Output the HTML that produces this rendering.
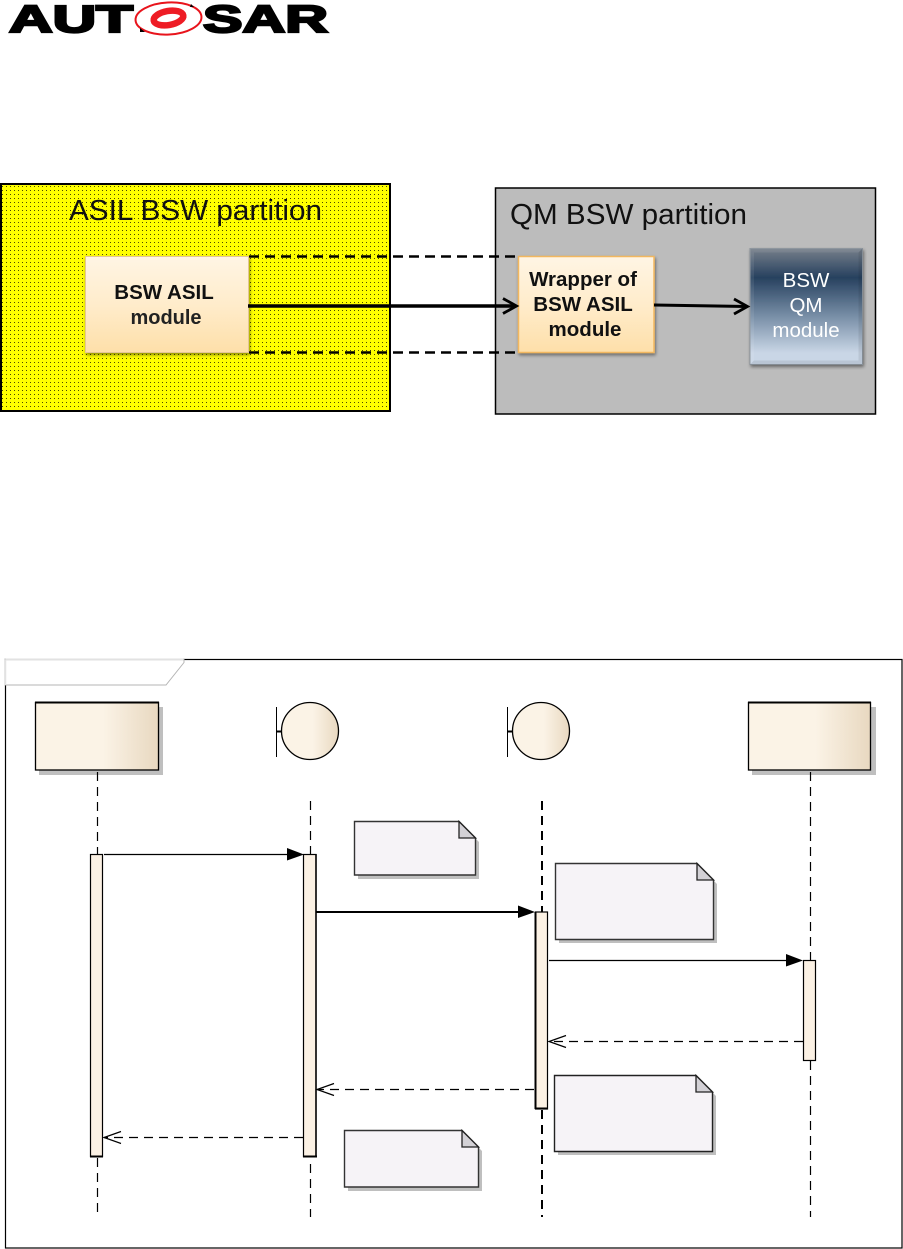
<!DOCTYPE html>
<html>
<head>
<meta charset="utf-8">
<style>
html,body{margin:0;padding:0;background:#fff}
svg{display:block}
text{font-family:"Liberation Sans",sans-serif}
</style>
</head>
<body>
<svg width="903" height="1249" viewBox="0 0 903 1249" xmlns="http://www.w3.org/2000/svg">
<defs>
<pattern id="dots" width="4" height="4" patternUnits="userSpaceOnUse" x="1" y="1">
<rect width="4" height="4" fill="#ffff00"/>
<rect x="1" y="1" width="1" height="1" fill="#4a4a00"/>
</pattern>
<linearGradient id="orange" x1="0" y1="0" x2="0" y2="1">
<stop offset="0" stop-color="#fff5e4"/><stop offset="0.5" stop-color="#ffeccb"/><stop offset="1" stop-color="#fedfa9"/>
</linearGradient>
<linearGradient id="blue" x1="0" y1="0" x2="0" y2="1">
<stop offset="0" stop-color="#767f8a"/><stop offset="0.25" stop-color="#27415f"/><stop offset="0.6" stop-color="#7c92aa"/><stop offset="0.9" stop-color="#c9d6e6"/><stop offset="1" stop-color="#c9d6e6"/>
</linearGradient>
<linearGradient id="life" x1="0" y1="0" x2="1" y2="0">
<stop offset="0" stop-color="#fbf3e6"/><stop offset="0.55" stop-color="#fbf3e6"/><stop offset="1" stop-color="#e8d8c0"/>
</linearGradient>
<filter id="sh" x="-10%" y="-10%" width="125%" height="125%"><feDropShadow dx="1" dy="2" stdDeviation="1.5" flood-color="#000" flood-opacity="0.45"/></filter>
</defs>

<!-- logo -->
<text x="9" y="32" font-size="38" font-weight="bold" textLength="124" lengthAdjust="spacingAndGlyphs" fill="#000" stroke="#000" stroke-width="2.200">AUT</text>
<text x="203" y="32" font-size="38" font-weight="bold" textLength="125" lengthAdjust="spacingAndGlyphs" fill="#000" stroke="#000" stroke-width="2.200">SAR</text>
<ellipse cx="168.500" cy="18.500" rx="33" ry="16" fill="#fff" stroke="#e8141c" stroke-width="2" transform="rotate(-3 168.500 18.500)"/>
<ellipse cx="168.500" cy="18" rx="15" ry="7" fill="none" stroke="#ee1c25" stroke-width="6.500" transform="rotate(-10 168.500 18)"/>
<path d="M191 4l3 3-4 0zM140 28l5 4-5 0z" fill="#000"/>

<!-- top diagram -->
<rect x="1" y="184" width="389" height="227" fill="url(#dots)" stroke="#000" stroke-width="2"/>
<rect x="495.500" y="188" width="380" height="226" fill="#bcbcbc" stroke="#000" stroke-width="1.500"/>
<text x="69" y="220" font-size="29" textLength="253" lengthAdjust="spacingAndGlyphs" fill="#111">ASIL BSW partition</text>
<text x="510" y="224" font-size="29" textLength="237" lengthAdjust="spacingAndGlyphs" fill="#111">QM BSW partition</text>

<rect x="85.500" y="256.500" width="163" height="96" fill="url(#orange)" stroke="#e3c596" stroke-width="1" filter="url(#sh)"/>
<text x="164" y="299" text-anchor="middle" font-size="20.500" font-weight="bold" fill="#111">BSW ASIL</text>
<text x="166" y="324" text-anchor="middle" font-size="20" font-weight="bold" fill="#222">module</text>

<rect x="518.500" y="256.500" width="135.500" height="96" fill="url(#orange)" stroke="#f2b75f" stroke-width="1.500" filter="url(#sh)"/>
<text x="583" y="286" text-anchor="middle" font-size="20.500" font-weight="bold" fill="#111">Wrapper of</text>
<text x="583" y="311" text-anchor="middle" font-size="20.500" font-weight="bold" fill="#111">BSW ASIL</text>
<text x="585" y="336" text-anchor="middle" font-size="20.500" font-weight="bold" fill="#111">module</text>

<rect x="750" y="248.500" width="112.500" height="116" fill="url(#blue)" stroke="#8a929a" stroke-width="1" filter="url(#sh)"/>
<path d="M750 248.500h112.500l-4 4h-104.500v108l-4 4z" fill="#fff" opacity="0.08"/>
<path d="M862.500 248.500v116h-112.500l4-4h104.500v-108z" fill="#000" opacity="0.08"/>
<text x="806" y="287" text-anchor="middle" font-size="20.500" fill="#fff">BSW</text>
<text x="806" y="312" text-anchor="middle" font-size="20.500" fill="#fff">QM</text>
<text x="806" y="337" text-anchor="middle" font-size="20.500" fill="#fff">module</text>

<line x1="249" y1="256.500" x2="518" y2="256.500" stroke="#000" stroke-width="2.400" stroke-dasharray="10 6"/>
<line x1="249" y1="352.500" x2="518" y2="352.500" stroke="#000" stroke-width="2.400" stroke-dasharray="10 6"/>
<line x1="248" y1="306" x2="516" y2="306" stroke="#000" stroke-width="3.500"/>
<path d="M503 298.500L516.500 306L503 313.500" fill="none" stroke="#000" stroke-width="2.800"/>
<line x1="654" y1="305" x2="747" y2="306.500" stroke="#000" stroke-width="3"/>
<path d="M734 299L747.500 306.500L734 314" fill="none" stroke="#000" stroke-width="2.800"/>

<!-- sequence frame -->
<rect x="5.500" y="659.500" width="896.500" height="588.500" fill="#fff" stroke="#000" stroke-width="1.200"/>
<path d="M5 659h179v3.500L166 685H5z" fill="#fff" stroke="#b5b5b5" stroke-width="1"/>
<path d="M5.500 659.500H183.500" stroke="#e2e2e2" stroke-width="2" fill="none"/>
<path d="M5.500 659.500V685" stroke="#e2e2e2" stroke-width="1.500" fill="none"/>

<!-- lifeline heads -->
<rect x="39" y="707" width="124" height="68" fill="#bfbfbf"/>
<rect x="35.500" y="702.500" width="123" height="67.500" fill="url(#life)" stroke="#000" stroke-width="1.300"/>
<line x1="35" y1="702.500" x2="159" y2="702.500" stroke="#000" stroke-width="2"/>
<rect x="752" y="707" width="124" height="68" fill="#bfbfbf"/>
<rect x="748.500" y="702.500" width="122" height="67.500" fill="url(#life)" stroke="#000" stroke-width="1.300"/>
<line x1="748" y1="702.500" x2="871" y2="702.500" stroke="#000" stroke-width="2"/>

<line x1="276.500" y1="707" x2="276.500" y2="757" stroke="#000" stroke-width="1"/>
<line x1="277" y1="731.500" x2="282" y2="731.500" stroke="#000" stroke-width="2"/>
<circle cx="310" cy="731" r="28.500" fill="url(#life)" stroke="#000" stroke-width="1.300"/>
<line x1="507.500" y1="707" x2="507.500" y2="757" stroke="#000" stroke-width="1"/>
<line x1="508" y1="731.500" x2="513" y2="731.500" stroke="#000" stroke-width="2"/>
<circle cx="541" cy="731" r="28.500" fill="url(#life)" stroke="#000" stroke-width="1.300"/>

<!-- lifelines -->
<g fill="none" stroke="#000" stroke-width="1.200">
<path d="M97.500 772V855M97.500 1158V1217" stroke-dasharray="9 6"/>
<path d="M310.500 801V855M310.500 1164V1217" stroke-dasharray="9 6"/>
<path d="M542 801V912M542 1110V1217" stroke-width="2" stroke-dasharray="9 6"/>
<path d="M810.500 772V961M810.500 1061V1217" stroke-dasharray="9 6"/>
</g>

<!-- activations -->
<rect x="90.500" y="854.500" width="12" height="302" fill="#fbf1e4" stroke="#000" stroke-width="1.200"/>
<line x1="90" y1="1156.500" x2="103" y2="1156.500" stroke="#000" stroke-width="2"/>
<rect x="303.500" y="854.500" width="12.500" height="302" fill="#fbf1e4" stroke="#000" stroke-width="1.200"/>
<line x1="316" y1="854" x2="316" y2="1157" stroke="#000" stroke-width="1.500"/>
<line x1="303" y1="1156.500" x2="317" y2="1156.500" stroke="#000" stroke-width="2"/>
<rect x="535.500" y="912" width="12" height="197" fill="#fbf1e4" stroke="#000" stroke-width="1.200"/>
<line x1="535.500" y1="912" x2="535.500" y2="1109" stroke="#000" stroke-width="2"/>
<line x1="535" y1="1108.500" x2="548" y2="1108.500" stroke="#000" stroke-width="2"/>
<rect x="803.500" y="960.500" width="12" height="100" fill="#fbf1e4" stroke="#000" stroke-width="1.200"/>

<!-- sync messages -->
<line x1="104" y1="854.500" x2="290" y2="854.500" stroke="#000" stroke-width="1.200"/>
<path d="M287 848L304 854.500L287 860.500z" fill="#000"/>
<line x1="316" y1="912" x2="520" y2="912" stroke="#000" stroke-width="2"/>
<path d="M518 905.500L535 912L518 918z" fill="#000"/>
<line x1="549" y1="960.500" x2="789" y2="960.500" stroke="#000" stroke-width="1.200"/>
<path d="M786 954L803 960.500L786 966.500z" fill="#000"/>

<!-- returns -->
<g fill="none" stroke="#000" stroke-width="1.200">
<path d="M803 1041.500H549" stroke-dasharray="9 6"/>
<path d="M566 1035.500L549 1041.500L566 1047.500"/>
<path d="M534 1089.500H317" stroke-dasharray="9 6"/>
<path d="M334 1083.500L317 1089.500L334 1095.500"/>
<path d="M303 1137.500H104" stroke-dasharray="9 6"/>
<path d="M121 1131.500L104 1137.500L121 1143.500"/>
</g>

<!-- notes -->
<g stroke-linejoin="miter">
<path d="M358 825H462L479 842V879H358z" fill="#bfbfbf"/>
<path d="M354.500 821.500H459L475.500 838V875H354.500z" fill="#f6f3f7" stroke="#333" stroke-width="1.400"/>
<path d="M459 821.500V838H475.500z" fill="#d3d1d6" stroke="#222" stroke-width="1.300"/>

<path d="M559 867H700L717 884V943H559z" fill="#bfbfbf"/>
<path d="M555.500 863.500H697L713.500 880V939.500H555.500z" fill="#f6f3f7" stroke="#333" stroke-width="1.400"/>
<path d="M697 863.500V880H713.500z" fill="#d3d1d6" stroke="#222" stroke-width="1.300"/>

<path d="M558 1079H699L716 1096V1155H558z" fill="#bfbfbf"/>
<path d="M554.500 1075.500H696L712.500 1092V1151.500H554.500z" fill="#f6f3f7" stroke="#222" stroke-width="1.400"/>
<path d="M696 1075.500V1092H712.500z" fill="#d3d1d6" stroke="#222" stroke-width="1.300"/>

<path d="M348 1134H465L482 1151V1191H348z" fill="#bfbfbf"/>
<path d="M344.500 1130.500H462L478.500 1147V1187H344.500z" fill="#f6f3f7" stroke="#333" stroke-width="1.400"/>
<path d="M462 1130.500V1147H478.500z" fill="#d3d1d6" stroke="#222" stroke-width="1.300"/>
</g>
</svg>
</body>
</html>
